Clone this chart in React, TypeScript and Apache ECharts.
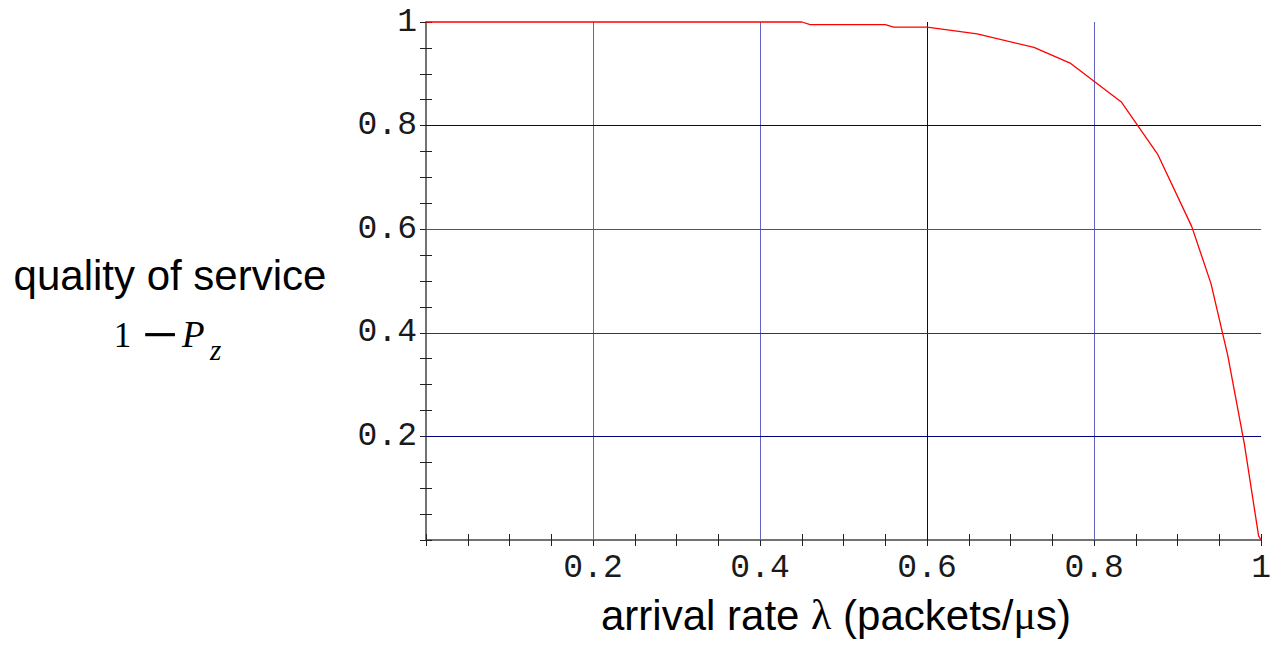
import React, { useEffect, useRef } from "react";
import * as echarts from "echarts";

// ---- data ----
const arrivalRate = [0, 0.45, 0.46, 0.55, 0.56, 0.6, 0.66, 0.728, 0.772, 0.833, 0.876, 0.917, 0.94, 0.96, 0.98, 0.997, 1];
const qualityOfService = [1, 1, 0.995, 0.995, 0.99, 0.99, 0.977, 0.951, 0.92, 0.845, 0.745, 0.605, 0.495, 0.357, 0.185, 0.008, 0];

const xTickValues = [0.2, 0.4, 0.6, 0.8, 1];
const xTickLabels = ["0.2", "0.4", "0.6", "0.8", "1"];
const yTickValues = [0.2, 0.4, 0.6, 0.8, 1];
const yTickLabels = ["0.2", "0.4", "0.6", "0.8", "1"];

const xGridValues = [0.2, 0.4, 0.6, 0.8];
const yGridValues = [0.2, 0.4, 0.6, 0.8];

const yTitle = "quality of service";
const xTitleParts = ["arrival rate ", "\u03bb", " (packets/", "\u03bc", "s)"];

// ---- styles ----
const xGridColors = ["#6464c0", "#6464c0", "#000080", "#6464c0"];
const yGridColors = ["#000080", "#2a2a9a", "#4a4ab0", "#000080"];

function labelFor(values: number[], labels: string[]) {
  return (v: number) => {
    const i = values.findIndex((t) => Math.abs(t - v) < 1e-9);
    return i >= 0 ? labels[i] : "";
  };
}

const monoLabel = {
  fontFamily: "Liberation Mono",
  fontSize: 33,
  color: "#1a1a1a",
};

function makeAxis(kind: "x" | "y", position: string, showLabels: boolean) {
  return {
    type: "value",
    position,
    min: 0,
    max: 1,
    interval: 0.2,
    z: 0,
    axisLine: { show: true, lineStyle: { color: "#6a6a6a", width: 1.5 } },
    axisTick: { show: true, inside: true, length: 6, lineStyle: { color: "#222", width: 1 } },
    minorTick: { show: true, splitNumber: 4, length: 6, lineStyle: { color: "#222", width: 1 } },
    splitLine: { show: false },
    minorSplitLine: { show: false },
    axisLabel: showLabels
      ? {
          show: true,
          showMinLabel: false,
          margin: kind === "x" ? 12 : 9,
          ...monoLabel,
          formatter:
            kind === "x"
              ? labelFor(xTickValues, xTickLabels)
              : labelFor(yTickValues, yTickLabels),
        }
      : { show: false },
  };
}

export default function App() {
  const ref = useRef<HTMLDivElement>(null);

  useEffect(() => {
    if (!ref.current) return;
    const chart = echarts.init(ref.current, null, { renderer: "svg" });

    const gridLines = [
      ...xGridValues.map((v, i) => ({ xAxis: v, lineStyle: { color: xGridColors[i], width: 1, type: "solid" } })),
      ...yGridValues.map((v, i) => ({ yAxis: v, lineStyle: { color: yGridColors[i], width: 1, type: "solid" } })),
    ];

    const sans = { fontFamily: "Liberation Sans", fontSize: 42, fill: "#000" };
    const greek = { fontFamily: "Liberation Serif", fontSize: 42, fill: "#000" };
    const xTitleText = xTitleParts
      .map((p, i) => (i === 1 || i === 3 ? `{g|${p}}` : `{a|${p}}`))
      .join("");

    chart.setOption({
      animation: false,
      backgroundColor: "#ffffff",
      grid: { left: 426, top: 22, right: 4.5, bottom: 121, containLabel: false },
      xAxis: [makeAxis("x", "bottom", true), makeAxis("x", "top", false)],
      yAxis: [makeAxis("y", "left", true), makeAxis("y", "right", false)],
      series: [
        {
          type: "line",
          name: "grid",
          xAxisIndex: 0,
          yAxisIndex: 0,
          data: [],
          z: 1,
          silent: true,
          markLine: {
            silent: true,
            symbol: ["none", "none"],
            label: { show: false },
            lineStyle: { type: "solid" },
            data: gridLines,
          },
        },
        {
          type: "line",
          name: "QoS",
          xAxisIndex: 0,
          yAxisIndex: 0,
          data: arrivalRate.map((x, i) => [x, qualityOfService[i]]),
          showSymbol: false,
          symbol: "none",
          clip: false,
          z: 10,
          lineStyle: { color: "#ff0000", width: 1.3 },
        },
      ],
      graphic: [
        {
          type: "text",
          x: 170,
          y: 275.5,
          style: { text: yTitle, ...sans, align: "center", verticalAlign: "middle" },
        },
        {
          type: "text",
          x: 122.5,
          y: 335,
          style: {
            text: "1",
            fontFamily: "Liberation Serif",
            fontSize: 35,
            fill: "#000",
            align: "center",
            verticalAlign: "middle",
          },
        },
        {
          type: "text",
          x: 160,
          y: 334,
          style: {
            text: "\u2212",
            fontFamily: "Liberation Serif",
            fontSize: 64,
            fill: "#000",
            align: "center",
            verticalAlign: "middle",
          },
        },
        {
          type: "text",
          x: 182,
          y: 334.5,
          style: {
            text: "P",
            fontFamily: "Liberation Serif",
            fontStyle: "italic",
            fontSize: 37,
            fill: "#000",
            align: "left",
            verticalAlign: "middle",
          },
        },
        {
          type: "text",
          x: 210,
          y: 350,
          style: {
            text: "z",
            fontFamily: "Liberation Serif",
            fontStyle: "italic",
            fontSize: 29,
            fill: "#000",
            align: "left",
            verticalAlign: "middle",
          },
        },
        {
          type: "text",
          x: 836,
          y: 615,
          style: {
            text: xTitleText,
            align: "center",
            verticalAlign: "middle",
            rich: { a: sans, g: greek },
          },
        },
      ],
    });

    return () => chart.dispose();
  }, []);

  return (
    <div
      ref={ref}
      style={{ position: "fixed", left: 0, top: 0, width: 1274, height: 661, background: "#fff" }}
    />
  );
}
